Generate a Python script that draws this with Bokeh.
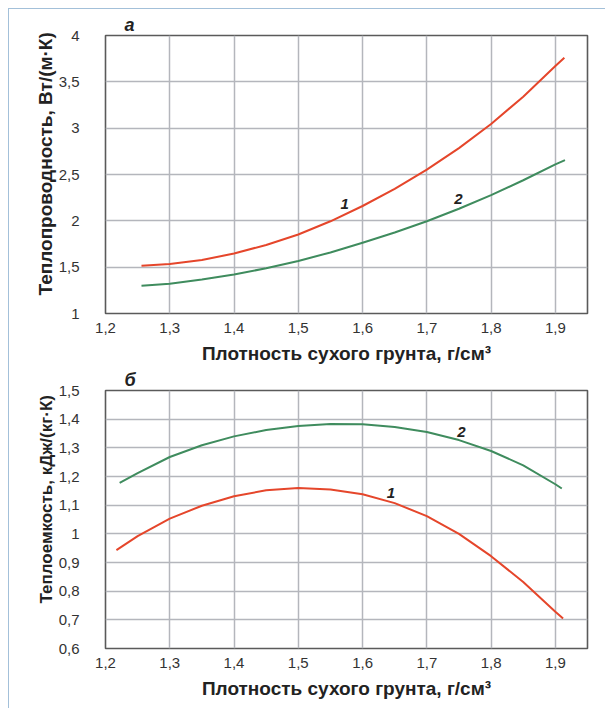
from bokeh.plotting import figure
from bokeh.layouts import column
from bokeh.models import FixedTicker, CustomJSTickFormatter, Title
from bokeh.core.properties import value
from bokeh.embed import file_html
from bokeh.resources import INLINE

# ---- data ----
density_ticks = [1.2, 1.3, 1.4, 1.5, 1.6, 1.7, 1.8, 1.9]
cond_ticks = [1.0, 1.5, 2.0, 2.5, 3.0, 3.5, 4.0]
cap_ticks = [0.6, 0.7, 0.8, 0.9, 1.0, 1.1, 1.2, 1.3, 1.4, 1.5]

# (a) thermal conductivity, W/(m*K)
cond1_x = [1.256, 1.3, 1.35, 1.4, 1.45, 1.5, 1.55, 1.6, 1.65, 1.7, 1.75, 1.8, 1.85, 1.9, 1.914]
cond1_y = [1.515, 1.533, 1.578, 1.647, 1.740, 1.853, 1.995, 2.160, 2.345, 2.553, 2.785, 3.045, 3.340, 3.670, 3.760]
cond2_x = [1.256, 1.3, 1.35, 1.4, 1.45, 1.5, 1.55, 1.6, 1.65, 1.7, 1.75, 1.8, 1.85, 1.9, 1.915]
cond2_y = [1.299, 1.322, 1.366, 1.421, 1.488, 1.567, 1.659, 1.763, 1.874, 1.995, 2.130, 2.278, 2.438, 2.610, 2.655]

# (б) heat capacity, kJ/(kg*K)
cap1_x = [1.217, 1.25, 1.3, 1.35, 1.4, 1.45, 1.5, 1.55, 1.6, 1.65, 1.7, 1.75, 1.8, 1.85, 1.9, 1.912]
cap1_y = [0.943, 0.992, 1.053, 1.098, 1.131, 1.152, 1.160, 1.155, 1.138, 1.107, 1.062, 1.000, 0.922, 0.832, 0.728, 0.705]
cap2_x = [1.222, 1.25, 1.3, 1.35, 1.4, 1.45, 1.5, 1.55, 1.6, 1.65, 1.7, 1.75, 1.8, 1.85, 1.9, 1.91]
cap2_y = [1.178, 1.212, 1.268, 1.309, 1.340, 1.362, 1.376, 1.383, 1.382, 1.373, 1.355, 1.327, 1.289, 1.239, 1.173, 1.158]

curve_names = ["1", "2"]
cond_label_x = [1.572, 1.749]
cond_label_y = [2.185, 2.24]
cap_label_x = [1.644, 1.754]
cap_label_y = [1.143, 1.355]

x_title = "Плотность сухого грунта, г/см³"
cond_title = "Теплопроводность, Вт/(м·К)"
cap_title = "Теплоемкость, кДж/(кг·К)"

RED = "#e5462b"
GREEN = "#3f8c5e"
GRID = "#b4b6bc"
FRAME = "#5a5a5a"
NARROW = "'Liberation Sans Narrow', 'Liberation Sans', sans-serif"

fmt = CustomJSTickFormatter(code="return (Math.round(tick*10)/10).toString().replace('.', ',');")


def make_fig(height, y_range, y_ticks, y_title, y_title_size, y_title_offset, panel, b_top, b_bottom):
    p = figure(width=596, height=height, x_range=(1.2, 1.95), y_range=y_range,
               output_backend="svg", toolbar_location=None,
               min_border_left=96, min_border_right=18,
               min_border_top=b_top, min_border_bottom=b_bottom,
               title=panel)
    p.title.text_font = "'Liberation Sans', sans-serif"
    p.title.text_font_style = "bold italic"
    p.title.text_font_size = "18px"
    p.title.text_color = "#222222"
    p.title.align = "left"
    p.title.offset = 19
    p.title.standoff = 1
    p.outline_line_color = FRAME
    p.outline_line_width = 1.6
    p.background_fill_color = "white"
    p.border_fill_color = "white"
    for ax, ticks in ((p.xaxis[0], density_ticks), (p.yaxis[0], y_ticks)):
        ax.ticker = FixedTicker(ticks=ticks)
        ax.formatter = fmt
        ax.axis_line_color = None
        ax.major_tick_line_color = None
        ax.minor_tick_line_color = None
        ax.major_label_text_font = NARROW
        ax.major_label_text_font_size = "15px"
        ax.major_label_text_color = "#333333"
    xa = p.xaxis[0]
    xa.axis_label = x_title
    xa.axis_label_text_font = NARROW
    xa.axis_label_text_font_style = "bold"
    xa.axis_label_text_font_size = "19px"
    xa.axis_label_text_color = "#222222"
    xa.major_label_standoff = 3
    xa.axis_label_standoff = 7
    p.yaxis.major_label_standoff = 20
    yt = Title(text=y_title, align="left", offset=y_title_offset, standoff=0,
               text_font=NARROW, text_font_style="bold", text_font_size=y_title_size,
               text_color="#222222")
    p.add_layout(yt, "left")
    p.xgrid.ticker = FixedTicker(ticks=density_ticks)
    p.ygrid.ticker = FixedTicker(ticks=y_ticks)
    for g in (p.xgrid[0], p.ygrid[0]):
        g.grid_line_color = GRID
        g.grid_line_width = 1.5
    return p


p1 = make_fig(357, (1.0, 4.0), cond_ticks, cond_title, "19px", 18, "а", 26, 53)
p1.line(cond1_x, cond1_y, line_color=RED, line_width=2, line_join="round")
p1.line(cond2_x, cond2_y, line_color=GREEN, line_width=2, line_join="round")
p1.text(x=cond_label_x, y=cond_label_y, text=curve_names,
        text_font=value("'Liberation Sans', sans-serif"), text_font_style="bold italic",
        text_font_size="15px", text_color="#222222", text_align="center", text_baseline="middle")

p2 = make_fig(342, (0.6, 1.5), cap_ticks, cap_title, "17px", 45, "б", 24, 60)
p2.line(cap1_x, cap1_y, line_color=RED, line_width=2, line_join="round")
p2.line(cap2_x, cap2_y, line_color=GREEN, line_width=2, line_join="round")
p2.text(x=cap_label_x, y=cap_label_y, text=curve_names,
        text_font=value("'Liberation Sans', sans-serif"), text_font_style="bold italic",
        text_font_size="15px", text_color="#222222", text_align="center", text_baseline="middle")

layout = column(p1, p2, styles={"border-top": "1px solid #a3c0d9",
                                "border-left": "1px solid #a3c0d9",
                                "background-color": "white",
                                "margin-left": "8px",
                                "margin-top": "8px"})

open("out.html", "w").write(file_html(layout, INLINE))
